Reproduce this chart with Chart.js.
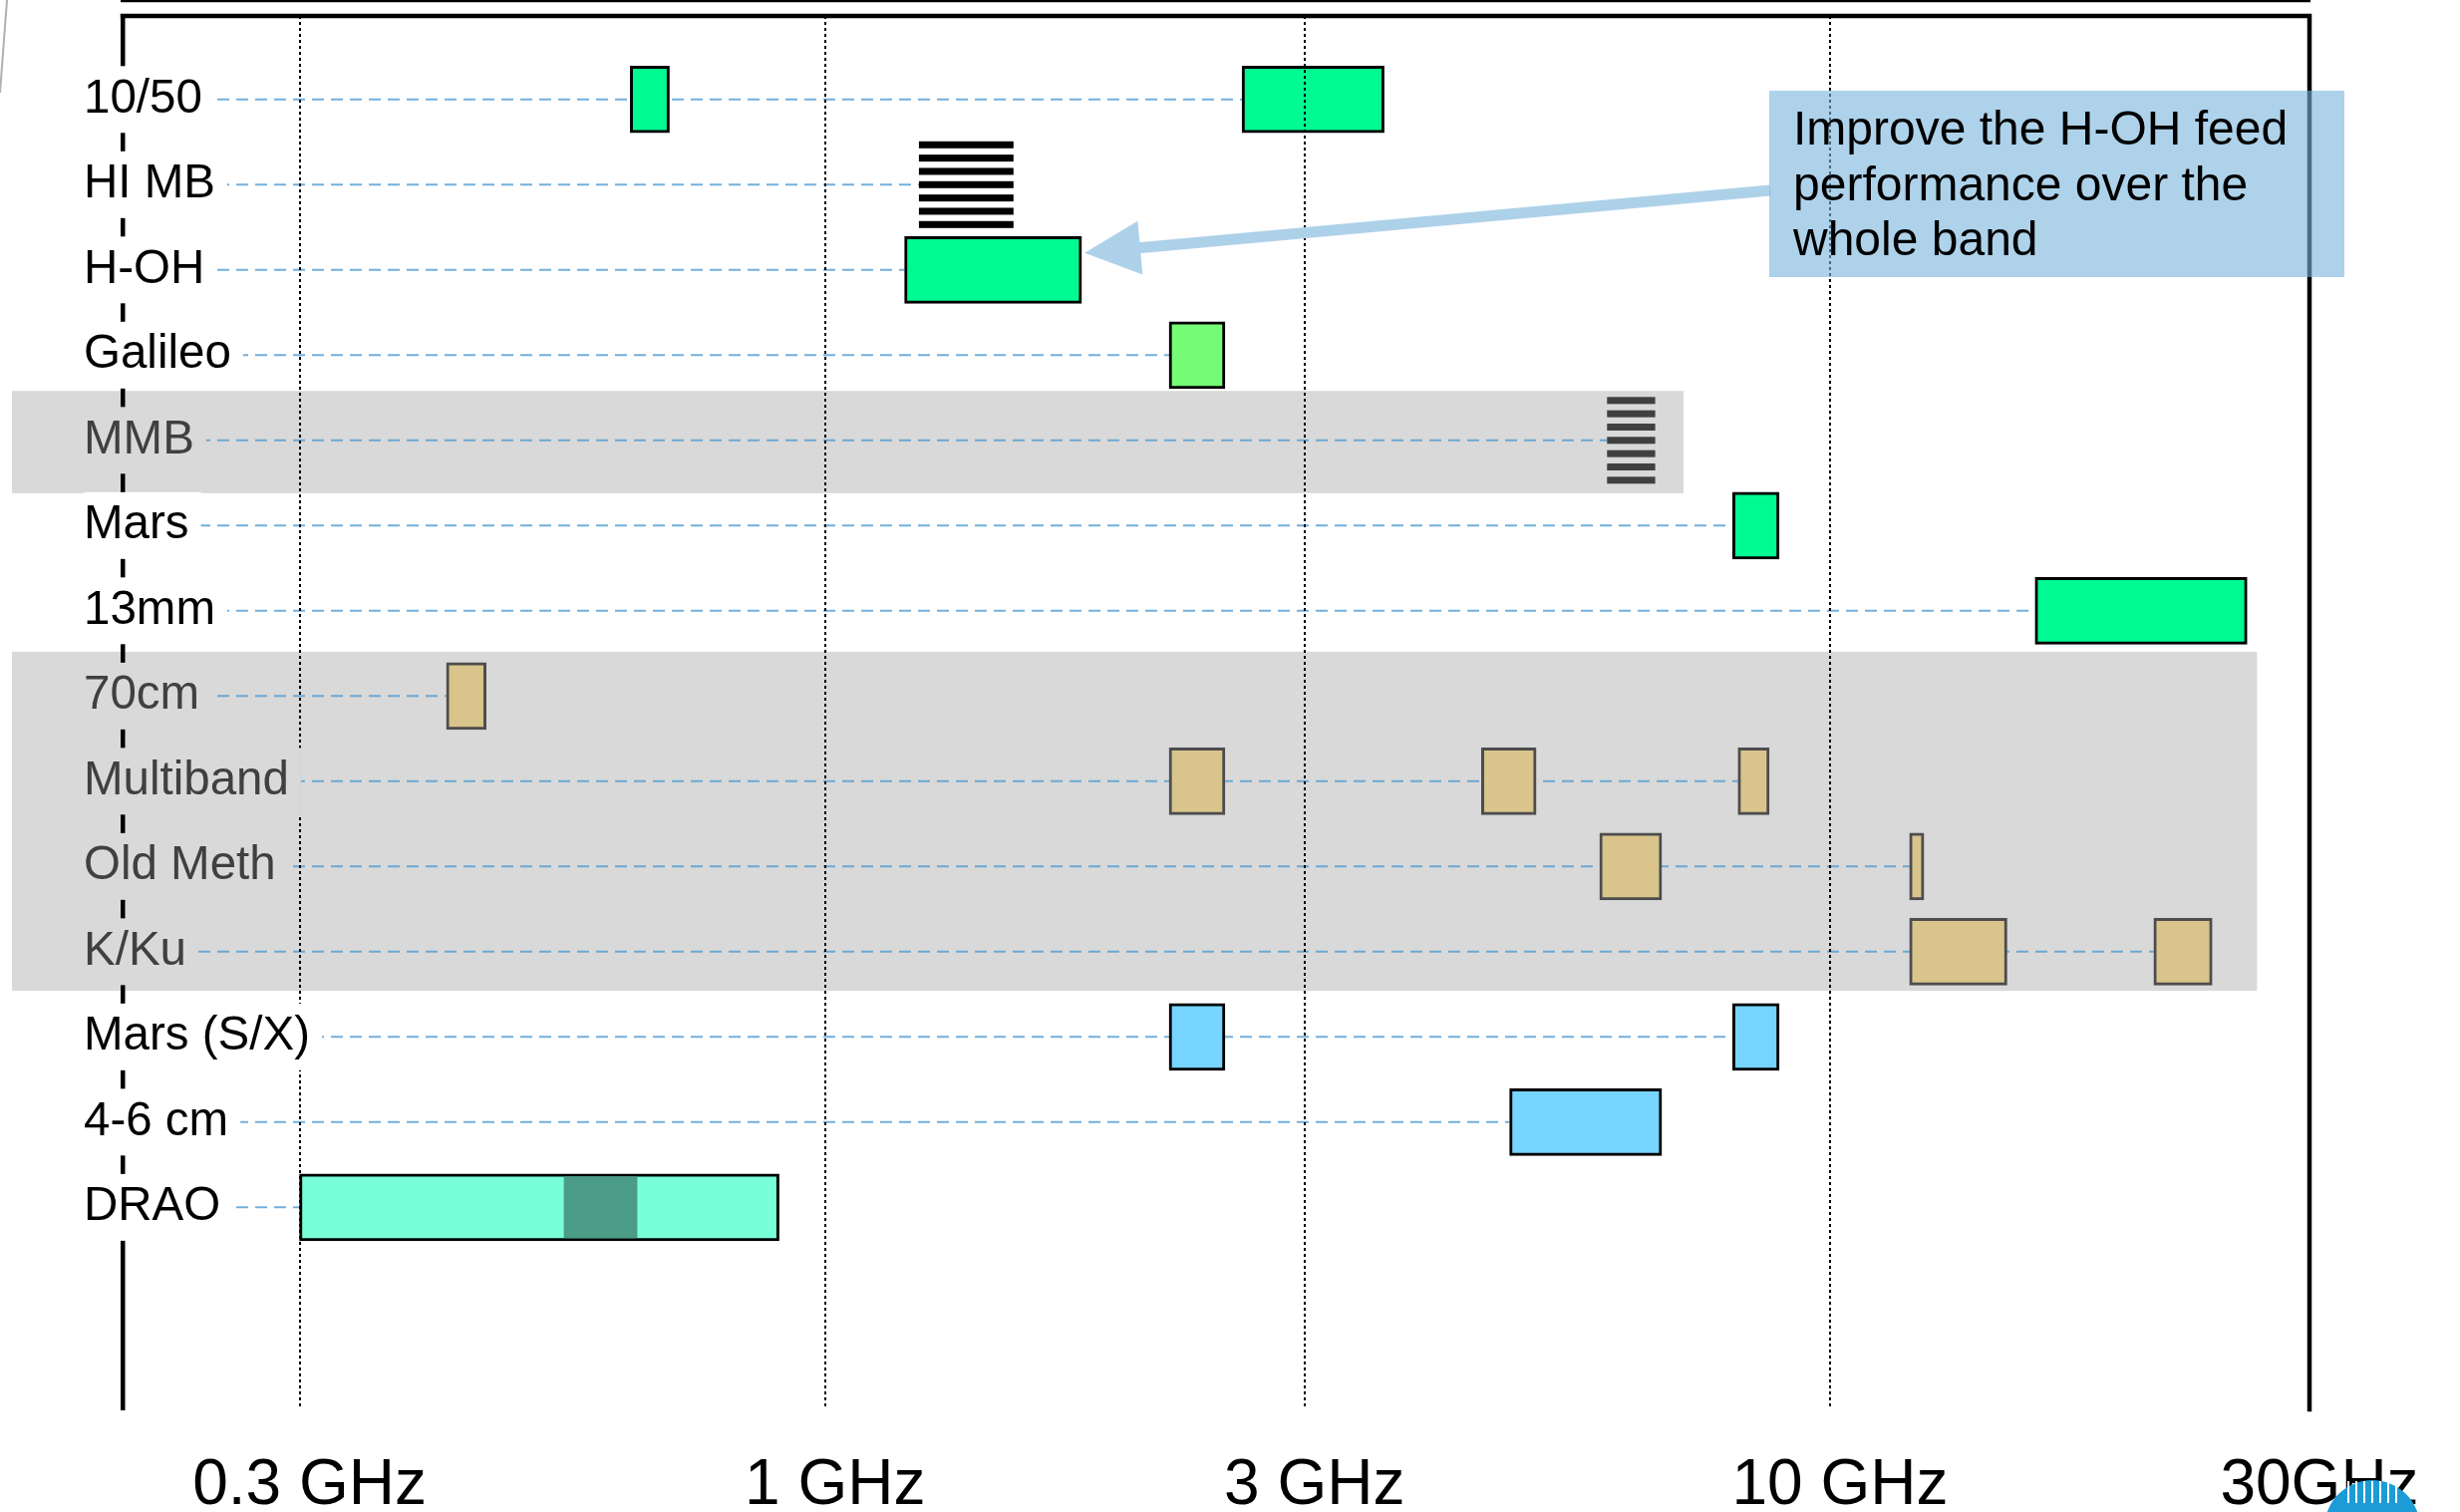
<!DOCTYPE html>
<html>
<head>
<meta charset="utf-8">
<script src="https://cdn.jsdelivr.net/npm/chart.js@4.4.0/dist/chart.umd.min.js"></script>
<style>
  html, body { margin: 0; padding: 0; background: #fff; }
  #wrap { width: 2468px; height: 1517px; }
</style>
</head>
<body>
<div id="wrap"><canvas id="chart" width="2468" height="1517"></canvas></div>
<script>
// rows, top to bottom
const rowLabels = ['10/50', 'HI MB', 'H-OH', 'Galileo', 'MMB', 'Mars', '13mm', '70cm',
                   'Multiband', 'Old Meth', 'K/Ku', 'Mars (S/X)', '4-6 cm', 'DRAO'];
const shadedRows = [4, 7, 8, 9, 10];

// x axis ticks (GHz)
const freqTicks = [0.3, 1, 3, 10, 30];
const freqTickLabels = ['0.3 GHz', '1 GHz', '3 GHz', '10 GHz', '30GHz'];

// receiver bands: [row, low GHz, high GHz]
const greenBands = [[0, 0.64, 0.70], [0, 2.6, 3.6], [2, 1.2, 1.8], [5, 8.0, 8.9], [6, 16, 26]];
const galileoBands = [[3, 2.2, 2.5]];
const tanBands = [[7, 0.42, 0.46], [8, 2.2, 2.5], [8, 4.5, 5.1], [8, 8.1, 8.7],
                  [9, 5.9, 6.8], [9, 12.0, 12.4], [10, 12, 15], [10, 21, 24]];
const blueBands = [[11, 2.2, 2.5], [11, 8.0, 8.9], [12, 4.8, 6.8]];
const draoBand = [[13, 0.3, 0.9]];
const draoCore = [[13, 0.55, 0.65]];
const stripedBands = [[1, 1.24, 1.54], [4, 6.0, 6.7]];

const toBars = list => list.map(([row, lo, hi]) => ({ y: row, x: [lo, hi] }));

// dashed guide line of each row runs up to the start of its last band
const allBands = [...greenBands, ...galileoBands, ...tanBands, ...blueBands, ...draoBand, ...stripedBands];
const rowLineEnd = rowLabels.map((_, i) => Math.max(...allBands.filter(b => b[0] === i).map(b => b[1])));

Chart.defaults.font.family = '"Liberation Sans", Arial, sans-serif';

const barBase = { type: 'bar', grouped: false, barThickness: 67, borderWidth: 3, borderSkipped: false, order: 1 };

const datasets = [
  { ...barBase, data: toBars(greenBands), backgroundColor: '#00FA92', borderColor: '#000' },
  { ...barBase, data: toBars(galileoBands), backgroundColor: '#76FB76', borderColor: '#000' },
  { ...barBase, data: toBars(tanBands), backgroundColor: '#D9C48C', borderColor: '#4d4d4d' },
  { ...barBase, data: toBars(blueBands), backgroundColor: '#76D4FF', borderColor: '#000' },
  { ...barBase, data: toBars(draoBand), backgroundColor: '#78FFD8', borderColor: '#000' },
  { ...barBase, data: toBars(draoCore), backgroundColor: '#4A9C86', borderWidth: 0, barThickness: 61, order: 0 },
  { ...barBase, data: toBars(stripedBands), backgroundColor: 'rgba(0,0,0,0)', borderWidth: 0,
    barThickness: 87, striped: true, stripeColors: ['#000000', '#404040'] },
  ...rowLabels.map((_, i) => ({
    type: 'line',
    data: [{ x: 0.2, y: i }, { x: rowLineEnd[i], y: i }],
    borderColor: 'rgba(80,155,210,0.8)',
    borderWidth: 2,
    borderDash: [12, 7],
    pointRadius: 0,
    order: 10
  }))
];

// grey shading behind groups of rows
const shading = {
  id: 'shading',
  beforeDraw(chart) {
    const { ctx, scales: { x, y } } = chart;
    const bands = [{ from: 3.42, to: 4.62, end: 7.15 }, { from: 6.48, to: 10.46, end: 26.6 }];
    ctx.save();
    ctx.fillStyle = '#D9D9D9';
    bands.forEach(b => {
      const top = y.getPixelForValue(b.from);
      const bot = y.getPixelForValue(b.to);
      ctx.fillRect(12, top, x.getPixelForValue(b.end) - 12, bot - top);
    });
    ctx.restore();
  }
};

// hatched blocks (HI MB, MMB)
const stripes = {
  id: 'stripes',
  afterDatasetsDraw(chart) {
    const ctx = chart.ctx;
    chart.data.datasets.forEach((ds, di) => {
      if (!ds.striped) return;
      chart.getDatasetMeta(di).data.forEach((el, k) => {
        const { x, base, y, height } = el.getProps(['x', 'base', 'y', 'height'], true);
        const n = 7, h = 7;
        const step = (height - h) / (n - 1);
        const top = y - height / 2;
        ctx.save();
        ctx.fillStyle = ds.stripeColors[k];
        for (let s = 0; s < n; s++) {
          ctx.fillRect(Math.min(x, base), top + s * step, Math.abs(x - base), h);
        }
        ctx.restore();
      });
    });
  }
};

// frame, call-out, arrow, corner bits
const decor = {
  id: 'decor',
  afterDraw(chart) {
    const { ctx, scales: { x, y } } = chart;
    ctx.save();
    // top and right frame
    ctx.strokeStyle = '#000';
    ctx.lineWidth = 4.5;
    ctx.beginPath();
    ctx.moveTo(x.left - 2.25, y.top);
    ctx.lineTo(x.right, y.top);
    ctx.lineTo(x.right, y.bottom + 2.25);
    ctx.stroke();

    // arrow to H-OH
    const tipX = x.getPixelForValue(1.8) + 3;
    const tipY = y.getPixelForValue(2) - 17;
    const tailX = 1776, tailY = 191;
    const ang = Math.atan2(tailY - tipY, tailX - tipX);
    const headLen = 56, headHalf = 27;
    const bx = tipX + Math.cos(ang) * headLen, by = tipY + Math.sin(ang) * headLen;
    ctx.strokeStyle = '#AED1EA';
    ctx.fillStyle = '#AED1EA';
    ctx.lineWidth = 11;
    ctx.beginPath();
    ctx.moveTo(tailX, tailY);
    ctx.lineTo(bx - Math.cos(ang) * 4, by - Math.sin(ang) * 4);
    ctx.stroke();
    ctx.beginPath();
    ctx.moveTo(tipX, tipY);
    ctx.lineTo(bx - Math.sin(ang) * headHalf, by + Math.cos(ang) * headHalf);
    ctx.lineTo(bx + Math.sin(ang) * headHalf, by - Math.cos(ang) * headHalf);
    ctx.closePath();
    ctx.fill();

    // call-out box
    ctx.fillStyle = 'rgba(120,180,220,0.6)';
    ctx.fillRect(1775, 91, 577, 187);
    ctx.fillStyle = '#000';
    ctx.font = '48px "Liberation Sans", Arial, sans-serif';
    ctx.textBaseline = 'alphabetic';
    ctx.textAlign = 'left';
    ['Improve the H-OH feed', 'performance over the', 'whole band'].forEach((t, i) => {
      ctx.fillText(t, 1799, 145 + i * 55.5);
    });

    // slide leftovers: corner line and logo fragment
    ctx.strokeStyle = '#b0b0b0';
    ctx.lineWidth = 2;
    ctx.beginPath();
    ctx.moveTo(7, 0);
    ctx.lineTo(0, 93);
    ctx.stroke();

    ctx.beginPath();
    ctx.arc(2380, 1533, 48, 0, Math.PI * 2);
    ctx.fillStyle = '#1D9BD6';
    ctx.fill();
    ctx.strokeStyle = '#fff';
    ctx.lineWidth = 2;
    for (let sx = 2356; sx <= 2404; sx += 8) {
      ctx.beginPath();
      ctx.moveTo(sx, 1486);
      ctx.lineTo(sx, 1508);
      ctx.stroke();
    }
    ctx.restore();
  }
};

new Chart(document.getElementById('chart'), {
  type: 'bar',
  data: { datasets },
  plugins: [shading, stripes, decor],
  options: {
    responsive: false,
    animation: false,
    devicePixelRatio: 1,
    indexAxis: 'y',
    layout: { padding: { left: 84, right: 151, top: 16, bottom: 0 } },
    plugins: { legend: { display: false }, tooltip: { enabled: false } },
    scales: {
      x: {
        type: 'logarithmic',
        bounds: 'data',
        offset: false,
        min: 0.2,
        max: 30,
        afterBuildTicks: s => { s.ticks = freqTicks.map(v => ({ value: v })); },
        afterFit: s => { s.height = 103; s.paddingLeft = 0; s.paddingRight = 0; },
        grid: {
          z: 1,
          offset: false,
          drawTicks: false,
          lineWidth: 2,
          color: c => (c.tick && c.tick.value === 30) ? 'rgba(0,0,0,0)' : '#000'
        },
        border: { display: true, color: '#000', width: 4.5, dash: [3, 3] },
        ticks: {
          autoSkip: false,
          maxRotation: 0,
          padding: 39,
          labelOffset: 10,
          color: '#000',
          font: { size: 64 },
          callback: (v, i) => freqTickLabels[i]
        }
      },
      y: {
        type: 'linear',
        bounds: 'data',
        offset: false,
        reverse: true,
        min: -0.98,
        max: 15.37,
        afterBuildTicks: s => { s.ticks = rowLabels.map((_, i) => ({ value: i })); },
        afterFit: s => { s.width = 39; s.paddingTop = 0; s.paddingBottom = 0; },
        grid: { display: false, drawTicks: false, offset: false },
        border: { display: true, color: '#000', width: 4.5 },
        ticks: {
          z: 2,
          autoSkip: false,
          mirror: true,
          crossAlign: 'near',
          padding: -39,
          font: { size: 47.5 },
          color: c => shadedRows.includes(c.tick.value) ? '#404040' : '#000',
          callback: v => rowLabels[v],
          showLabelBackdrop: true,
          backdropColor: c => shadedRows.includes(c.tick.value) ? '#D9D9D9' : '#fff',
          backdropPadding: { top: 5, bottom: 5, left: 0, right: 12 }
        }
      }
    }
  }
});
</script>
</body>
</html>
